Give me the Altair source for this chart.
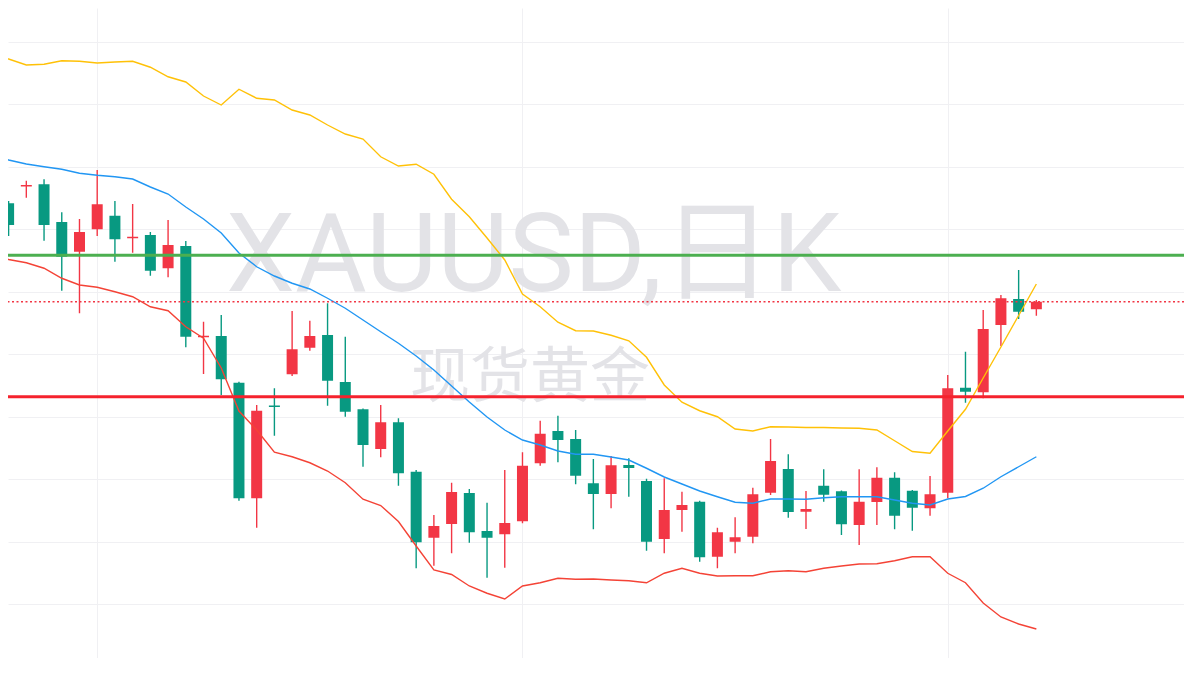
import altair as alt
import pandas as pd

# ---- candle data (index 0..58), XAUUSD daily ----
opens = [2435.5, 2442.2, 2443.1, 2428.0, 2416.1, 2425.1, 2430.5, 2421.5, 2422.8, 2409.5,
         2418.4, 2381.9, 2382.4, 2363.7, 2317.5, 2354.6, 2367.1, 2377.7, 2382.8, 2364.0,
         2353.1, 2337.2, 2347.9, 2328.1, 2301.7, 2307.2, 2319.6, 2304.4, 2303.1, 2308.3,
         2331.5, 2344.4, 2341.2, 2323.5, 2319.2, 2330.8, 2324.4, 2301.2, 2312.8, 2316.1,
         2294.1, 2300.1, 2302.1, 2319.7, 2329.2, 2312.1, 2322.5, 2320.3, 2306.8, 2316.0,
         2325.7, 2320.5, 2313.5, 2319.7, 2361.7, 2359.9, 2386.8, 2397.2, 2393.1]
highs = [2436.4, 2444.5, 2445.1, 2431.9, 2429.2, 2448.8, 2436.4, 2435.2, 2424.0, 2428.8,
         2420.4, 2388.1, 2390.8, 2364.1, 2354.8, 2361.5, 2392.4, 2388.5, 2395.5, 2382.1,
         2353.4, 2354.8, 2349.5, 2328.8, 2310.8, 2323.7, 2321.2, 2315.7, 2328.8, 2335.9,
         2348.5, 2350.5, 2344.8, 2333.2, 2334.4, 2333.5, 2325.3, 2325.5, 2320.1, 2316.5,
         2305.7, 2309.9, 2321.7, 2341.2, 2335.1, 2320.4, 2329.1, 2320.6, 2329.1, 2329.9,
         2327.9, 2320.8, 2326.4, 2366.8, 2376.1, 2392.8, 2398.8, 2408.8, 2396.8]
lows = [2422.4, 2437.7, 2420.5, 2400.5, 2391.5, 2422.4, 2412.1, 2415.7, 2406.5, 2405.9,
        2377.9, 2367.2, 2358.8, 2316.5, 2305.7, 2342.5, 2366.4, 2376.5, 2354.5, 2350.1,
        2330.1, 2333.9, 2322.5, 2289.5, 2290.5, 2295.5, 2299.7, 2285.7, 2289.7, 2307.5,
        2330.5, 2331.9, 2323.1, 2305.1, 2313.5, 2318.1, 2296.5, 2295.5, 2304.1, 2292.1,
        2289.5, 2295.5, 2299.5, 2318.8, 2309.7, 2305.2, 2316.1, 2302.8, 2298.8, 2306.8,
        2305.1, 2304.5, 2310.5, 2317.5, 2355.7, 2357.5, 2378.4, 2389.2, 2390.5]
closes = [2426.8, 2442.8, 2426.8, 2414.1, 2424.0, 2435.1, 2421.1, 2422.1, 2408.5, 2418.8,
          2382.1, 2382.5, 2365.1, 2317.5, 2352.5, 2354.0, 2377.1, 2382.4, 2364.5, 2352.1,
          2338.8, 2347.9, 2327.5, 2299.9, 2306.4, 2320.0, 2303.9, 2301.7, 2307.6, 2330.5,
          2343.3, 2340.8, 2326.5, 2319.2, 2330.7, 2329.6, 2300.1, 2312.8, 2314.8, 2293.9,
          2303.9, 2301.9, 2319.1, 2332.4, 2312.0, 2313.2, 2318.9, 2307.1, 2316.1, 2325.7,
          2310.5, 2313.7, 2319.1, 2361.5, 2360.1, 2385.2, 2397.5, 2392.1, 2396.1]

# ---- Bollinger bands (index -1..58) ----
band_upper = [2494.4, 2493.2, 2490.8, 2491.1, 2492.5, 2492.3, 2491.6, 2492.0, 2492.3, 2489.9,
              2486.1, 2484.0, 2478.4, 2474.8, 2481.1, 2477.5, 2476.8, 2472.8, 2470.8, 2466.8,
              2463.2, 2461.2, 2454.1, 2450.4, 2451.1, 2447.1, 2437.1, 2430.1, 2421.6, 2412.8,
              2399.2, 2394.1, 2387.9, 2384.5, 2384.4, 2382.7, 2380.5, 2373.9, 2362.8, 2355.9,
              2352.5, 2350.1, 2345.2, 2344.4, 2346.1, 2346.0, 2345.8, 2345.8, 2345.6, 2345.5,
              2344.8, 2340.5, 2336.2, 2335.5, 2344.4, 2353.1, 2365.6, 2378.0, 2390.6, 2403.2]
band_mid = [2455.6, 2452.8, 2451.2, 2450.1, 2449.1, 2447.5, 2446.7, 2446.1, 2445.2, 2442.0,
            2439.2, 2434.0, 2429.2, 2423.6, 2415.6, 2410.1, 2406.4, 2403.5, 2401.2, 2397.5,
            2393.5, 2388.8, 2384.1, 2379.5, 2374.4, 2368.8, 2362.4, 2356.0, 2350.0, 2344.8,
            2340.8, 2338.8, 2336.4, 2335.1, 2335.1, 2334.0, 2332.8, 2329.5, 2326.0, 2323.2,
            2320.4, 2318.1, 2315.9, 2315.5, 2317.2, 2317.2, 2317.1, 2317.7, 2318.1, 2318.1,
            2318.1, 2316.8, 2315.5, 2314.8, 2317.2, 2318.2, 2321.5, 2326.1, 2330.1, 2334.1]
band_lower = [2415.2, 2413.0, 2411.7, 2409.5, 2405.5, 2402.8, 2401.9, 2400.1, 2398.1, 2394.1,
              2392.5, 2386.1, 2381.5, 2369.6, 2352.4, 2344.8, 2335.9, 2334.1, 2331.7, 2328.4,
              2323.7, 2317.1, 2314.6, 2308.2, 2298.4, 2288.8, 2287.0, 2282.4, 2279.5, 2277.2,
              2282.4, 2283.7, 2285.5, 2285.1, 2285.2, 2284.8, 2284.5, 2283.7, 2287.5, 2289.5,
              2287.5, 2286.4, 2286.5, 2286.5, 2288.1, 2288.5, 2288.1, 2289.5, 2290.4, 2291.2,
              2291.3, 2292.5, 2294.1, 2294.1, 2287.5, 2283.7, 2275.6, 2270.0, 2267.2, 2265.2]

resistance_level = [2414.7]
support_level = [2358.1]
grid_prices = [2250, 2275, 2300, 2325, 2350, 2375, 2400, 2425, 2450, 2475, 2500]
grid_days = [5, 29, 53]

watermark_texts = ["XAUUSD,日K", "现货黄金"]
watermark_x = [29.63, 29.42]
watermark_y = [2400.6, 2358.0]

# ---- tables ----
n = len(opens)
candles = pd.DataFrame({
    "i": list(range(n)),
    "open": opens, "high": highs, "low": lows, "close": closes,
})
candles["dir"] = ["up" if c >= o else "down" for o, c in zip(opens, closes)]

bands = pd.DataFrame({
    "i": list(range(-1, len(band_upper) - 1)),
    "upper": band_upper, "mid": band_mid, "lower": band_lower,
})
levels = pd.DataFrame({"res": resistance_level, "sup": support_level, "last": [closes[-1]]})
marks_txt = pd.DataFrame({"t": watermark_texts, "x": watermark_x, "y": watermark_y})

xscale = alt.Scale(domain=[-0.034, 66.332], nice=False, zero=False, padding=0)
yscale = alt.Scale(domain=[2253.6, 2513.6], nice=False, zero=False, padding=0)
xaxis = alt.Axis(values=grid_days, labels=False, ticks=False, domain=False, grid=True,
                 gridColor="#f0f0f3", gridWidth=1, title=None)
yaxis = alt.Axis(values=grid_prices, labels=False, ticks=False, domain=False, grid=True,
                 gridColor="#f0f0f3", gridWidth=1, title=None)

def X(f):
    return alt.X(f, type="quantitative", scale=xscale, axis=xaxis)

def Y(f):
    return alt.Y(f, type="quantitative", scale=yscale, axis=yaxis)

color = alt.Color("dir:N", scale=alt.Scale(domain=["up", "down"], range=["#f23645", "#089981"]),
                  legend=None)

wm1 = alt.Chart(marks_txt.iloc[[0]]).mark_text(
    font="Roboto, Noto Sans CJK SC", fontSize=110, color="#e3e3e7",
    align="center", baseline="alphabetic"
).encode(x=X("x"), y=Y("y"), text="t:N")
wm2 = alt.Chart(marks_txt.iloc[[1]]).mark_text(
    font="Noto Sans CJK SC", fontSize=60, color="#e3e3e7",
    align="center", baseline="alphabetic"
).encode(x=X("x"), y=Y("y"), text="t:N")

wicks = alt.Chart(candles).mark_rule(strokeWidth=1.4).encode(
    x=X("i"), y=Y("low"), y2="high", color=color)
bodies = alt.Chart(candles).mark_bar(size=11).encode(
    x=X("i"), y=Y("open"), y2="close", color=color)

def band(field, col):
    return alt.Chart(bands).mark_line(strokeWidth=1.4, color=col, clip=True).encode(
        x=X("i"), y=Y(field))

res_line = alt.Chart(levels).mark_rule(color="#4caf50", strokeWidth=3).encode(y=Y("res"))
sup_line = alt.Chart(levels).mark_rule(color="#f5222d", strokeWidth=3).encode(y=Y("sup"))
last_line = alt.Chart(levels).mark_rule(color="#f23645", strokeWidth=1.4,
                                        strokeDash=[2, 2.5]).encode(y=Y("last"))

chart = alt.layer(
    wm1, wm2, wicks, bodies,
    band("upper", "#ffc107"), band("mid", "#2196f3"), band("lower", "#f44336"),
    res_line, sup_line, last_line,
).properties(
    width=1176, height=650, padding=0, autosize=alt.AutoSizeParams(type="none"),
    background="white",
).configure_view(stroke=None)

chart.save("out.html", embed_options={"renderer": "svg", "actions": False})
